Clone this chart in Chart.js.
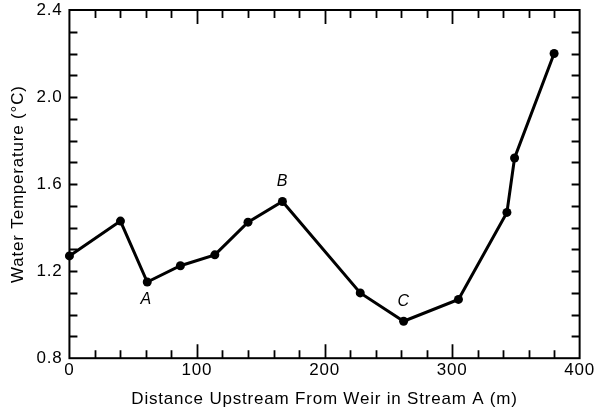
<!DOCTYPE html>
<html><head><meta charset="utf-8">
<script src="https://cdn.jsdelivr.net/npm/chart.js@4/dist/chart.umd.min.js"></script>
<style>html,body{margin:0;padding:0;background:#fff}#w{width:597px;height:413px}</style>
</head><body><div id="w"><canvas id="c"></canvas></div>
<script>
const distances = [0, 40, 61, 87, 114, 140, 167, 228, 262, 305, 343, 349, 380];
const temperatures = [1.27, 1.43, 1.15, 1.225, 1.275, 1.425, 1.52, 1.10, 0.97, 1.07, 1.47, 1.72, 2.20];
const pointLabels = [{i:2, text:'A', pos:'below'}, {i:6, text:'B', pos:'above'}, {i:8, text:'C', pos:'above'}];
const xTickLabels = [0, 100, 200, 300, 400];
const yTickLabels = [0.8, 1.2, 1.6, 2.0, 2.4];

const FONT = "'Liberation Sans', Arial, Helvetica, sans-serif";

const spacingPlugin = {
  id: 'spacing',
  beforeInit(chart) { chart.ctx.letterSpacing = '0.8px'; },
  beforeUpdate(chart) { chart.ctx.letterSpacing = '0.8px'; },
  beforeDraw(chart) { chart.ctx.letterSpacing = '0.8px'; }
};

const framePlugin = {
  id: 'frame',
  afterDraw(chart) {
    const {ctx, chartArea: a, scales: {x, y}} = chart;
    ctx.save();
    ctx.strokeStyle = '#000';
    ctx.lineWidth = 2;
    ctx.strokeRect(a.left, a.top, a.right - a.left, a.bottom - a.top);
    ctx.lineWidth = 1.8;
    ctx.beginPath();
    for (let v = 20; v < 400; v += 20) {
      const px = Math.round(x.getPixelForValue(v)) + 0.5;
      const len = v % 100 === 0 ? 14 : 8;
      ctx.moveTo(px, a.bottom); ctx.lineTo(px, a.bottom - len);
      ctx.moveTo(px, a.top); ctx.lineTo(px, a.top + len);
    }
    for (let k = 9; k < 24; k++) {
      const v = k / 10;
      const py = Math.round(y.getPixelForValue(v)) + 0.5;
      const len = 8;
      ctx.moveTo(a.left, py); ctx.lineTo(a.left + len, py);
      ctx.moveTo(a.right, py); ctx.lineTo(a.right - len, py);
    }
    ctx.stroke();
    // point letters
    ctx.fillStyle = '#000';
    ctx.font = 'italic 16px ' + FONT;
    ctx.textAlign = 'center';
    const meta = chart.getDatasetMeta(0);
    pointLabels.forEach(p => {
      const el = meta.data[p.i];
      if (p.pos === 'below') { ctx.textBaseline = 'top'; ctx.fillText(p.text, el.x - 1, el.y + 10); }
      else { ctx.textBaseline = 'bottom'; ctx.fillText(p.text, el.x, el.y - 12); }
    });
    ctx.restore();
  }
};

new Chart(document.getElementById('c'), {
  type: 'scatter',
  data: {
    datasets: [{
      data: distances.map((d, i) => ({x: d, y: temperatures[i]})),
      showLine: true,
      borderColor: '#000',
      backgroundColor: '#000',
      borderWidth: 3,
      pointRadius: 4.5,
      pointBackgroundColor: '#000',
      pointBorderWidth: 0,
      tension: 0,
      clip: false
    }]
  },
  options: {
    responsive: true,
    maintainAspectRatio: false,
    animation: false,
    layout: {padding: {left: 8, right: 4, top: 10, bottom: 3}},
    plugins: {legend: {display: false}, tooltip: {enabled: false}},
    scales: {
      x: {
        type: 'linear', min: 0, max: 400,
        afterBuildTicks: s => { s.ticks = xTickLabels.map(v => ({value: v})); },
        grid: {display: false, drawTicks: false},
        border: {display: false},
        ticks: {color: '#000', font: {family: FONT, size: 17}, padding: 2, maxRotation: 0},
        title: {display: true, text: 'Distance Upstream From Weir in Stream A (m)', color: '#000', font: {family: FONT, size: 17}, padding: {top: 7, bottom: 0}}
      },
      y: {
        min: 0.8, max: 2.4,
        afterBuildTicks: s => { s.ticks = yTickLabels.map(v => ({value: v})); },
        afterFit: s => { s.paddingTop = 0; s.paddingBottom = 0; },
        grid: {display: false, drawTicks: false},
        border: {display: false},
        ticks: {color: '#000', font: {family: FONT, size: 17}, padding: 7, callback: v => Number(v).toFixed(1)},
        title: {display: true, text: 'Water Temperature (°C)', color: '#000', font: {family: FONT, size: 17}, padding: {top: 0, bottom: 1}}
      }
    }
  },
  plugins: [spacingPlugin, framePlugin]
});
</script>
</body></html>
